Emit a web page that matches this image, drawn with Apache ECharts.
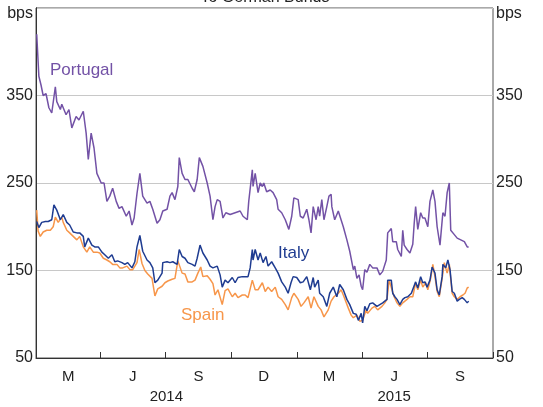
<!DOCTYPE html>
<html><head><meta charset="utf-8">
<script src="https://cdn.jsdelivr.net/npm/echarts@6/dist/echarts.min.js"></script>
<style>html,body{margin:0;padding:0;background:#fff}#c{width:543px;height:407px}</style>
</head><body><div id="c"></div>
<script>
// ---- data (days counted from 1 Jan 2014) ----
const portugalDays = [1,4,7,10,14,18,22,27,29,34,36,42,46,50,56,60,66,70,73,77,81,85,91,95,99,103,107,112,116,120,126,130,134,137,141,145,149,155,159,163,169,173,177,183,187,190,194,198,200,204,208,212,218,221,225,228,233,239,243,247,250,253,257,261,265,271,278,285,289,295,297,302,303,306,310,313,316,318,322,327,331,336,338,343,348,353,357,360,366,369,373,378,381,384,387,391,394,396,399,402,406,409,412,413,417,422,424,429,434,438,443,445,448,451,454,456,459,462,466,470,476,480,484,489,491,496,498,503,505,510,512,514,518,522,526,528,530,533,537,540,543,547,550,554,557,560,564,568,571,574,577,579,584,588,593,598,602,604];
const portugalValues = [420,372,362,350,352,336,330,360,343,334,340,328,334,313,326,322,332,307,277,307,290,261,250,250,229,235,244,229,221,223,212,218,202,210,238,261,235,227,229,220,204,208,218,220,235,239,231,246,279,261,254,254,244,240,254,279,269,250,235,208,223,231,229,210,216,214,216,218,212,208,229,265,246,261,239,250,246,250,240,242,239,231,220,216,208,197,212,233,231,212,210,220,208,193,223,208,223,212,231,208,223,235,237,223,208,218,216,200,185,172,151,155,141,145,132,128,151,148,157,153,153,145,149,162,193,198,183,183,174,166,196,179,174,170,180,204,223,197,216,210,210,200,229,242,229,200,179,216,212,239,250,196,191,187,185,183,177,177];

const italyDays = [1,4,8,13,17,22,25,29,34,38,43,47,52,57,61,66,68,73,78,82,87,92,96,101,106,110,114,120,124,128,134,138,141,145,149,155,159,163,166,170,176,177,183,187,191,197,200,204,208,212,218,222,225,229,233,239,243,247,253,257,260,264,268,274,278,282,288,292,296,299,302,303,306,310,313,317,321,324,329,334,338,343,348,352,356,359,364,369,373,378,383,387,389,394,396,401,406,410,415,420,424,429,434,438,443,447,450,454,456,459,462,466,470,476,480,484,490,491,496,498,501,504,508,512,515,519,524,526,530,533,537,540,543,546,550,553,557,560,563,567,568,572,575,578,581,584,588,591,595,598,602,604];
const italyValues = [206,199,205,206,206,208,225,219,208,214,205,202,194,193,193,189,177,187,179,177,177,171,168,164,168,160,161,159,157,159,153,160,177,190,172,162,159,153,136,139,147,159,160,159,160,157,174,166,164,159,157,155,164,179,170,162,155,153,155,145,131,139,136,142,136,142,143,143,143,153,174,162,174,162,170,159,166,155,160,153,147,137,131,124,136,143,142,136,137,143,128,142,131,139,124,120,109,124,131,120,134,128,117,111,101,100,93,101,90,109,104,112,113,109,111,113,117,139,139,124,120,117,111,117,119,120,124,122,137,130,143,136,137,131,139,154,147,128,122,143,157,153,162,151,126,124,115,117,119,117,113,115];

const spainDays = [1,3,6,10,15,20,24,27,31,36,38,43,47,52,57,61,66,71,75,80,85,89,94,99,103,107,113,117,121,127,131,135,141,144,148,152,156,162,166,170,176,180,184,190,194,198,204,208,212,218,222,226,230,233,239,243,247,250,254,260,264,268,274,278,282,288,292,296,302,306,310,316,320,324,329,334,338,343,348,352,357,360,366,370,374,380,384,388,394,398,402,408,412,416,422,426,430,436,440,443,448,452,456,461,463,469,473,477,483,487,490,493,497,500,504,508,512,518,522,526,530,533,537,540,544,547,551,554,557,560,563,567,570,574,577,581,584,588,592,596,599,602,604];
const spainValues = [219,195,189,194,196,196,200,211,205,211,205,196,193,189,185,189,177,171,177,171,171,170,164,162,160,157,157,153,153,155,151,151,159,174,158,150,146,141,121,129,132,136,138,140,141,161,147,146,137,137,139,147,154,143,144,140,135,122,128,111,127,129,120,124,119,122,122,119,139,128,128,136,126,131,126,131,120,117,111,105,119,124,117,109,113,120,107,120,109,105,97,105,115,120,124,128,120,107,99,96,99,92,93,105,101,107,109,105,109,113,117,139,128,120,113,109,113,117,120,120,136,128,139,131,136,128,141,157,143,126,120,141,159,147,157,124,120,117,120,122,124,130,131];

const quarterTicks = ['2014-01-01','2014-04-01','2014-07-01','2014-10-01','2015-01-01','2015-04-01','2015-07-01','2015-10-01'];
const quarterLabelDates = ['2014-02-15','2014-05-16','2014-08-16','2014-11-15','2015-02-14','2015-05-16','2015-08-16'];
const quarterLabels = ['M','J','S','D','M','J','S'];
const yearLabelDates = ['2014-07-02','2015-05-16'];
const yearLabels = ['2014','2015'];
const yMin = 50, yMax = 450, yStep = 100;

// ---- build (x measured in days since 1 Jan 2014) ----
const dayOf = s => (Date.parse(s + 'T00:00:00Z') - Date.parse('2014-01-01T00:00:00Z')) / 864e5;
const pairs = (days, vals) => days.map((d, i) => [d, vals[i]]);
const qTick = quarterTicks.map(dayOf);
const qLab = quarterLabelDates.map(dayOf);
const yLab = yearLabelDates.map(dayOf);
const nearest = (arr, v) => { let b = 0; arr.forEach((x, i) => { if (Math.abs(x - v) < Math.abs(arr[b] - v)) b = i; }); return b; };

const FONT = 'Arial, "Liberation Sans", sans-serif';
const cPort = '#7352a6', cItaly = '#1f3c91', cSpain = '#f7964a';
const axisCol = '#333';

const chart = echarts.init(document.getElementById('c'), null, {renderer: 'canvas'});
const yAxisBase = {
  type: 'value', min: yMin, max: yMax, interval: yStep,
  axisLine: {show: true, lineStyle: {color: axisCol, width: 1}},
  axisTick: {show: false},
  splitLine: {show: true, lineStyle: {color: '#c8c8c8', width: 1}},
  axisLabel: {fontFamily: FONT, fontSize: 16, color: '#222', margin: 3,
    formatter: v => v === yMax ? '' : String(v)}
};
const xMin = qTick[0], xMax = qTick[qTick.length - 1];
chart.setOption({
  animation: false,
  backgroundColor: '#fff',
  grid: {left: 36, right: 50, top: 8, bottom: 49, show: true, borderColor: '#555', borderWidth: 1},
  xAxis: [
    {type: 'value', min: xMin, max: xMax,
     axisLine: {show: true, onZero: false, lineStyle: {color: axisCol, width: 1}},
     axisTick: {show: true, inside: true, length: 6, customValues: qTick, lineStyle: {color: axisCol}},
     splitLine: {show: false},
     axisLabel: {customValues: qLab, fontFamily: FONT, fontSize: 15, color: '#222', margin: 11,
       formatter: v => quarterLabels[nearest(qLab, v)]}},
    {type: 'value', min: xMin, max: xMax, position: 'bottom',
     axisLine: {show: false, onZero: false}, axisTick: {show: false}, splitLine: {show: false},
     axisLabel: {customValues: yLab, fontFamily: FONT, fontSize: 15, color: '#222', margin: 31,
       formatter: v => yearLabels[nearest(yLab, v)]}}
  ],
  yAxis: [
    Object.assign({}, yAxisBase, {position: 'left'}),
    Object.assign({}, yAxisBase, {position: 'right'})
  ],
  series: [
    {name: 'Portugal', type: 'line', xAxisIndex: 0, yAxisIndex: 0, data: pairs(portugalDays, portugalValues),
     showSymbol: false, symbol: 'none', lineStyle: {color: cPort, width: 1.5}, z: 3},
    {name: 'Spain', type: 'line', xAxisIndex: 0, yAxisIndex: 0, data: pairs(spainDays, spainValues),
     showSymbol: false, symbol: 'none', lineStyle: {color: cSpain, width: 1.5}, z: 3},
    {name: 'Italy', type: 'line', xAxisIndex: 0, yAxisIndex: 0, data: pairs(italyDays, italyValues),
     showSymbol: false, symbol: 'none', lineStyle: {color: cItaly, width: 1.5}, z: 4}
  ],
  graphic: [
    {type: 'text', x: 265, y: 6, style: {text: 'To German Bunds', font: '16px ' + FONT, fill: '#222', align: 'center', verticalAlign: 'bottom'}},
    {type: 'text', x: 33, y: 14, style: {text: 'bps', font: '16px ' + FONT, fill: '#222', align: 'right', verticalAlign: 'middle'}},
    {type: 'text', x: 496, y: 14, style: {text: 'bps', font: '16px ' + FONT, fill: '#222', align: 'left', verticalAlign: 'middle'}},
    {type: 'text', x: 50, y: 70, style: {text: 'Portugal', font: '17px ' + FONT, fill: cPort, verticalAlign: 'middle'}},
    {type: 'text', x: 278, y: 253, style: {text: 'Italy', font: '17px ' + FONT, fill: cItaly, verticalAlign: 'middle'}},
    {type: 'text', x: 181, y: 315, style: {text: 'Spain', font: '17px ' + FONT, fill: cSpain, verticalAlign: 'middle'}}
  ]
});
</script></body></html>
